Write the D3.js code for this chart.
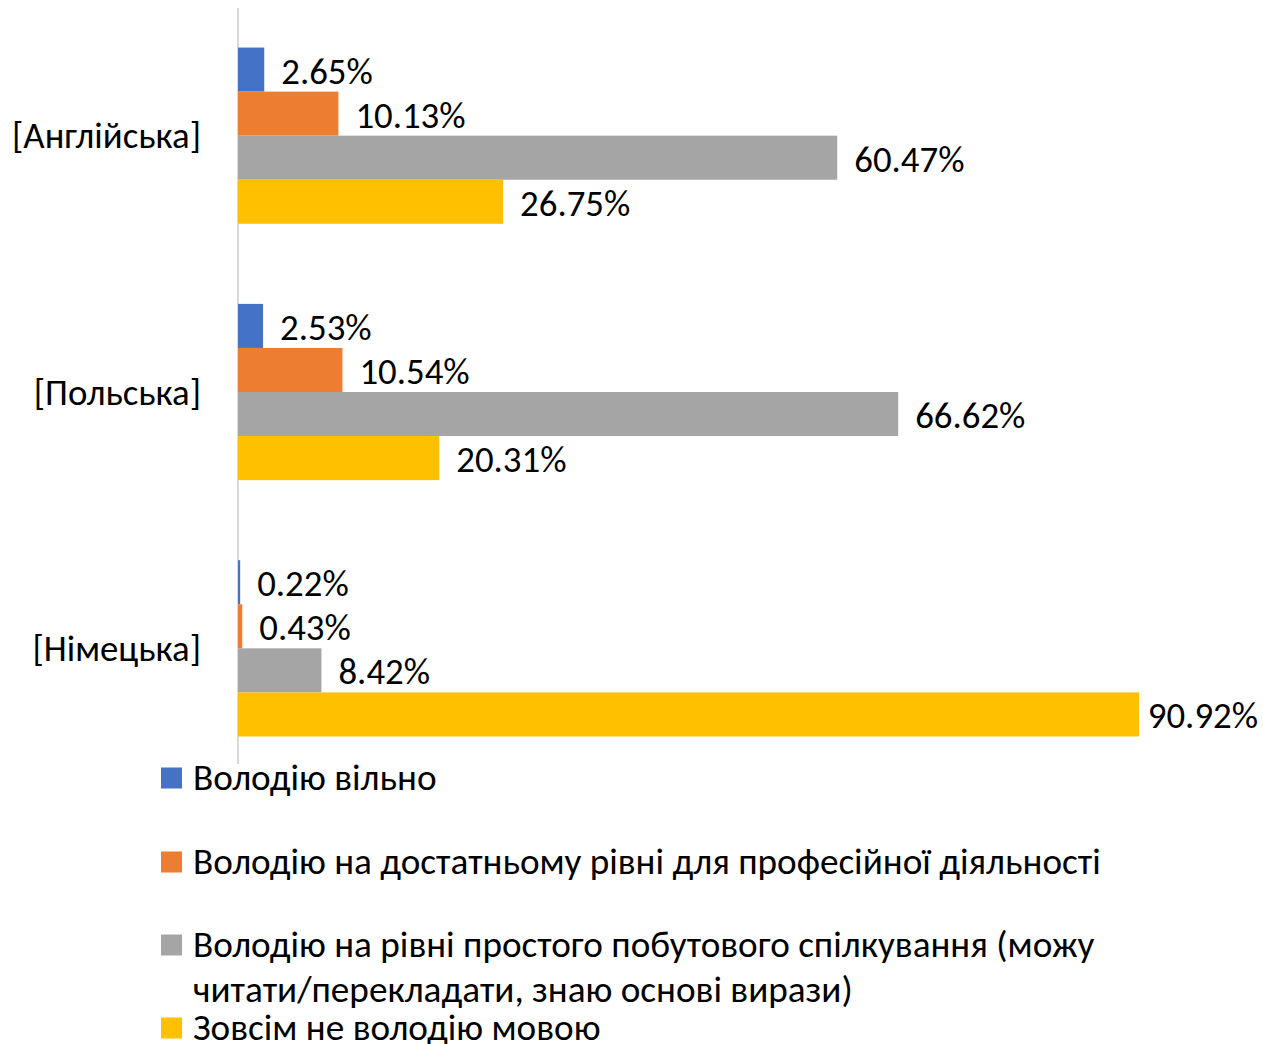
<!DOCTYPE html>
<html><head><meta charset="utf-8">
<script src="https://cdn.jsdelivr.net/npm/d3@7"></script>
<style>html,body{margin:0;padding:0;background:#fff;overflow:hidden}</style>
</head><body>
<svg id="chart" width="1263" height="1044"></svg>
<script>
const categories = ["[Англійська]", "[Польська]", "[Німецька]"];
const seriesNames = [
  "Володію вільно",
  "Володію на достатньому рівні для професійної діяльності",
  "Володію на рівні простого побутового спілкування (можу читати/перекладати, знаю основі вирази)",
  "Зовсім не володію мовою"
];
const legendLines = [
  ["Володію вільно"],
  ["Володію на достатньому рівні для професійної діяльності"],
  ["Володію на рівні простого побутового спілкування (можу", "читати/перекладати, знаю основі вирази)"],
  ["Зовсім не володію мовою"]
];
const fluent = [2.65, 2.53, 0.22];
const professional = [10.13, 10.54, 0.43];
const basic = [60.47, 66.62, 8.42];
const noneAtAll = [26.75, 20.31, 90.92];
const seriesValues = [fluent, professional, basic, noneAtAll];
const colors = ["#4472C4", "#ED7D31", "#A5A5A5", "#FFC000"];

function hasFont(name){
  const c = document.createElement("canvas").getContext("2d");
  const s = "Володію abcdefghij 0123456789";
  c.font = "40px monospace"; const w1 = c.measureText(s).width;
  c.font = `40px "${name}", monospace`; const w2 = c.measureText(s).width;
  return Math.abs(w1 - w2) > 0.5;
}
const useCarlito = hasFont("Carlito");
const FONT = useCarlito ? "Carlito" : "Open Sans";
const FS = useCarlito ? 36.8 : 31;
const FS_LEG = useCarlito ? 37.2 : 31;

const svg = d3.select("#chart");
const W = 1263;

const x = d3.scaleLinear().domain([0, 100]).range([238, 1229]);
const y = d3.scaleBand().domain(categories).range([7.5, 776.5]).paddingInner(0.3125).paddingOuter(0.15625);
const ySub = d3.scaleBand().domain(d3.range(seriesValues.length)).range([0, y.bandwidth()]);

svg.append("line").attr("x1", x(0)).attr("x2", x(0)).attr("y1", 8).attr("y2", 764)
  .attr("stroke", "#d9d9d9").attr("stroke-width", 2);

const data = [];
categories.forEach((c, ci) => seriesValues.forEach((vals, si) => data.push({c, si, v: vals[ci]})));

svg.append("g").selectAll("rect").data(data).join("rect")
  .attr("x", x(0))
  .attr("y", d => y(d.c) + ySub(d.si))
  .attr("width", d => Math.max(1.5, x(d.v) - x(0)))
  .attr("height", ySub.bandwidth())
  .attr("fill", d => colors[d.si]);

const labels = svg.append("g").selectAll("text").data(data).join("text")
  .attr("font-family", FONT).attr("font-size", FS).attr("fill", "#000")
  .attr("dominant-baseline", "central")
  .attr("y", d => y(d.c) + ySub(d.si) + ySub.bandwidth() / 2 + 1.5)
  .text(d => d.v.toFixed(2) + "%");
labels.each(function(d){
  const w = this.getComputedTextLength();
  const px = Math.min(x(d.v) + 17, W - w - 5);
  d3.select(this).attr("x", px);
});

svg.append("g").selectAll("text").data(categories).join("text")
  .attr("font-family", FONT).attr("font-size", FS).attr("fill", "#000")
  .attr("text-anchor", "end").attr("dominant-baseline", "central")
  .attr("x", 201).attr("y", d => y(d) + y.bandwidth() / 2)
  .text(d => d);

const legendY = [778, 862, 945, 1028];
const lineH = 45;
const lg = svg.append("g");
legendLines.forEach((lines, i) => {
  lg.append("rect").attr("x", 161).attr("y", legendY[i] - 10.5).attr("width", 21).attr("height", 21).attr("fill", colors[i]);
  lines.forEach((t, j) => {
    lg.append("text").attr("font-family", FONT).attr("font-size", FS_LEG).attr("fill", "#000")
      .attr("dominant-baseline", "central")
      .attr("x", 193).attr("y", legendY[i] + j * lineH - 0.5)
      .text(t);
  });
});
</script>
</body></html>
